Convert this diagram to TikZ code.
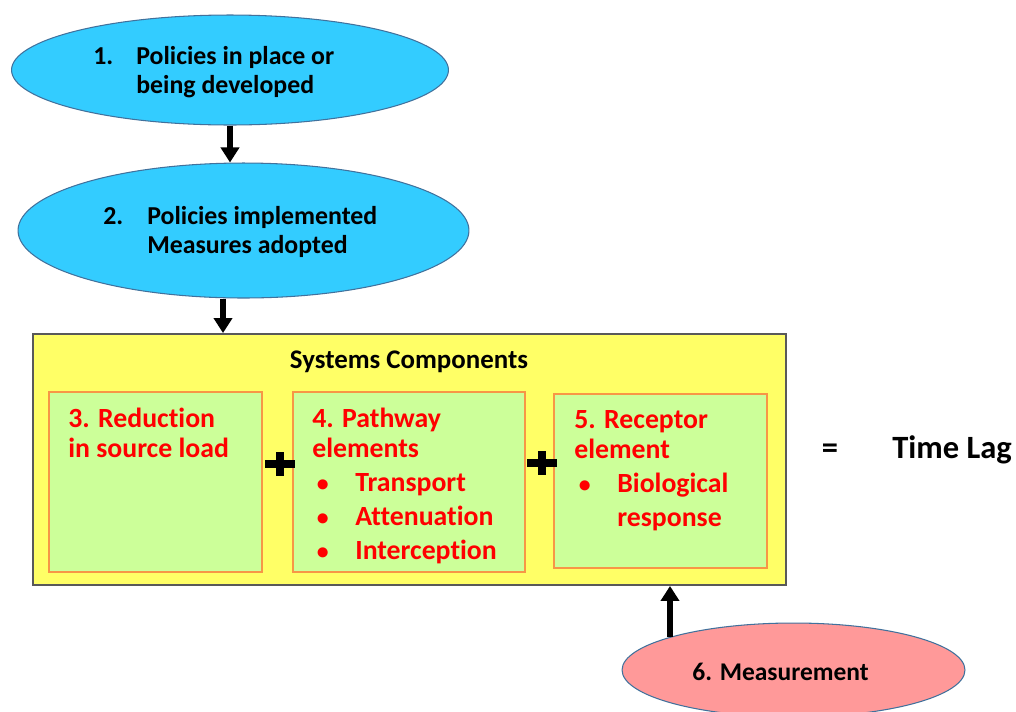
\documentclass[tikz,border=0pt]{standalone}
\usepackage{fontspec}
\setmainfont{Carlito}[Ligatures=NoCommon]
\usepackage{xcolor}
\usetikzlibrary{shapes.geometric}
\usetikzlibrary{arrows.meta}
\usetikzlibrary{positioning}

\definecolor{policyblue}{HTML}{33CCFF}
\definecolor{rimblue}{HTML}{41719C}
\definecolor{measurepink}{HTML}{FF9999}
\definecolor{sysyellow}{HTML}{FFFF66}
\definecolor{sysgray}{HTML}{595959}
\definecolor{partgreen}{HTML}{CCFF99}
\definecolor{partorange}{HTML}{F79646}
\definecolor{partred}{HTML}{FF0000}

\tikzset{
  blob/.style={ellipse,draw=rimblue,line width=0.6pt,inner sep=0pt},
  sysbox/.style={rectangle,draw=sysgray,fill=sysyellow,line width=1.1pt,inner sep=0pt},
  partbox/.style={rectangle,draw=partorange,fill=partgreen,line width=0.9pt,inner sep=0pt},
  txt/.style={inner sep=0pt,align=left,font=\bfseries\fontsize{14.7}{16.5}\selectfont},
  redtxt/.style={inner sep=0pt,align=left,anchor=north west,text=partred,font=\bfseries\fontsize{15.8}{17}\selectfont},
  arr/.style={-{Triangle[width=3.6mm,length=3mm]},line width=1.1mm},
  plus/.style={minimum width=0.6cm,minimum height=0.48cm,inner sep=0pt,
    path picture={\draw[line width=1.7mm] (path picture bounding box.west) -- (path picture bounding box.east)
      (path picture bounding box.north) -- (path picture bounding box.south);}}
}

\newcommand{\rdot}{\makebox[0.86cm][l]{\,{\fontsize{13.5}{17}\selectfont\textbullet}}}

\begin{document}
\begin{tikzpicture}[x=0.02cm,y=-0.02cm]
  \useasboundingbox (0,0) rectangle (1016,711);
  \clip (0,0) rectangle (1016,711);

  % policy ellipses
  \node[blob,fill=policyblue,minimum width=8.74cm,minimum height=2.2cm] (e1) at (230,70) {};
  \node[txt,anchor=north west] (t1) at (93,46) {\makebox[0.86cm][l]{1.}Policies in place or\\\hspace*{0.86cm}being developed};
  \node[blob,fill=policyblue,minimum width=9.02cm,minimum height=2.7cm] (e2) at (243.5,230.5) {};
  \node[txt,anchor=north west] (t2) at (103,206) {\makebox[0.88cm][l]{2.}Policies implemented\\\hspace*{0.88cm}Measures adopted};

  % systems components
  \node[sysbox,minimum width=15.06cm,minimum height=5.02cm] (sys) at (409.5,459.5) {};
  \node[txt,anchor=base,font=\bfseries\fontsize{15.3}{17}\selectfont] (syst) at (409,368) {Systems Components};

  \node[partbox,minimum width=4.26cm,minimum height=3.6cm] (b3) at (155.5,482) {};
  \node[partbox,minimum width=4.64cm,minimum height=3.6cm] (b4) at (409,482) {};
  \node[partbox,minimum width=4.26cm,minimum height=3.48cm] (b5) at (660.5,481) {};

  \node[redtxt] (t3) at (68,408) {3. Reduction\\in source load};
  \node[redtxt] (t4) at (312,408) {4. Pathway\\elements\\[2.3pt]\rdot Transport\\[2.3pt]\rdot Attenuation\\[2.3pt]\rdot Interception};
  \node[redtxt] (t5) at (574,410) {5. Receptor\\element\\[2.3pt]\rdot Biological\\[2.3pt]\hspace*{0.86cm}response};

  \node[plus] (p1) at (280,464) {};
  \node[plus] (p2) at (542,463) {};

  \node[txt,anchor=base,font=\bfseries\fontsize{18.5}{20}\selectfont] (eq) at (830,458) {=};
  \node[txt,anchor=base west,font=\bfseries\fontsize{18.5}{20}\selectfont] (lag) at (892,458) {Time Lag};

  % measurement
  \node[blob,fill=measurepink,minimum width=6.86cm,minimum height=1.88cm] (e6) at (793.5,670) {};
  \node[txt,anchor=west,font=\bfseries\fontsize{14.5}{16}\selectfont] (t6) at (692,672) {6. Measurement};
  \coordinate (m6) at (670,637);

  \draw[arr] (e1.south) -- (e1.south |- e2.north);
  \draw[arr] ([xshift=-0.41cm]e2.south) -- ([xshift=-0.41cm]e2.south |- sys.north);
  \draw[arr] (m6) -- (m6 |- sys.south);
\end{tikzpicture}
\end{document}
